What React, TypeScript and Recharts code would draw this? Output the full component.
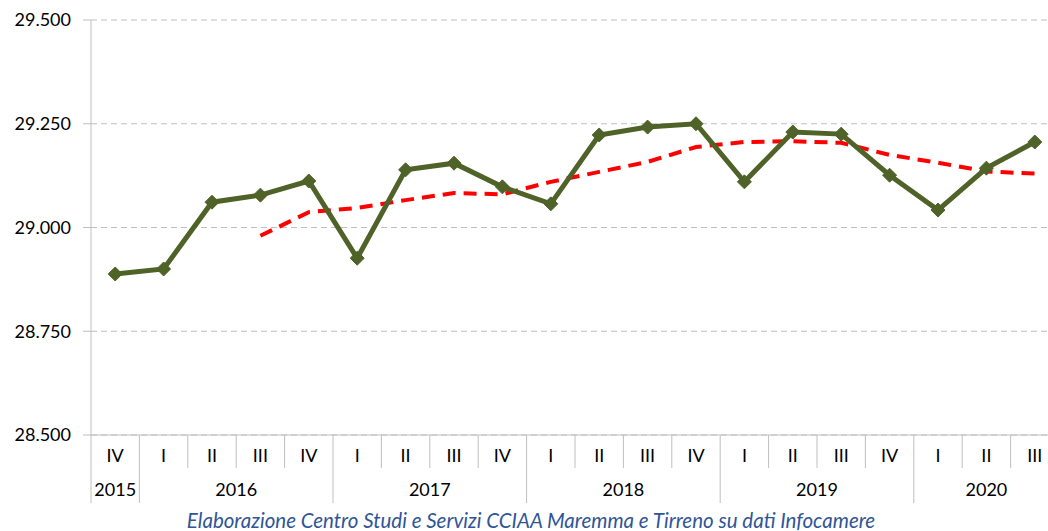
import React from "react";
import { ComposedChart, Line, XAxis, YAxis, CartesianGrid } from "recharts";

const quarters = ["IV", "I", "II", "III", "IV", "I", "II", "III", "IV", "I", "II", "III", "IV", "I", "II", "III", "IV", "I", "II", "III"];
const years = ["2015", "2016", "2016", "2016", "2016", "2017", "2017", "2017", "2017", "2018", "2018", "2018", "2018", "2019", "2019", "2019", "2019", "2020", "2020", "2020"];
const imprese = [28888, 28900, 29061, 29078, 29112, 28926, 29139, 29155, 29098, 29057, 29223, 29242, 29250, 29110, 29230, 29225, 29126, 29042, 29143, 29206];
const mediaMobile = [null, null, null, 28980, 29037, 29047, 29066, 29083, 29080, 29110, 29134, 29158, 29194, 29206, 29208, 29204, 29175, 29156, 29135, 29130];
const yTicks = [28500, 28750, 29000, 29250, 29500];

const data = quarters.map((q, i) => ({ key: `${years[i]}-${q}-${i}`, q, year: years[i], imprese: imprese[i], media: mediaMobile[i] }));

const CHART_W = 1062;
const CHART_H = 531;
const MARGIN = { top: 20, right: 3, left: 0, bottom: 26 };
const Y_W = 91;
const X_H = 70;
const BAND = (CHART_W - MARGIN.left - MARGIN.right - Y_W) / quarters.length;
const FONT = "Lato, 'Open Sans', sans-serif";
const AXIS = "#BFBFBF";
const FS = 18;

const fmt = (v: number) => `${Math.floor(v / 1000)}.${String(v % 1000).padStart(3, "0")}`;

const XTick = (props: any) => {
  const { x, y, payload } = props;
  const i = payload.index;
  const left = x - BAND / 2;
  const isYearStart = i === 0 || years[i] !== years[i - 1];
  let yearLabel = null;
  if (isYearStart) {
    let n = 0;
    while (i + n < years.length && years[i + n] === years[i]) n++;
    yearLabel = (
      <text x={left + (n * BAND) / 2} y={y + 54} textAnchor="middle" dominantBaseline="central" fontSize={FS} fill="#000" fontFamily={FONT}>
        {years[i]}
      </text>
    );
  }
  return (
    <g>
      <line x1={left} x2={left} y1={y} y2={isYearStart ? y + 68 : y + 33} stroke={AXIS} strokeWidth={1} />
      <text x={x} y={y + 20} textAnchor="middle" dominantBaseline="central" fontSize={FS} fill="#000" fontFamily={FONT}>
        {quarters[i]}
      </text>
      {yearLabel}
    </g>
  );
};

const Diamond = (props: any) => {
  const { cx, cy } = props;
  if (cx == null || cy == null) return null;
  const r = 7;
  return <path d={`M${cx},${cy - r}L${cx + r},${cy}L${cx},${cy + r}L${cx - r},${cy}Z`} fill="#4F6228" stroke="#4F6228" strokeWidth={1} />;
};

export default function App() {
  return (
    <div style={{ position: "fixed", left: 0, top: 0, width: 1048, height: 531, overflow: "hidden", background: "#fff" }}>
      <ComposedChart width={CHART_W} height={CHART_H} data={data} margin={MARGIN}>
        <CartesianGrid vertical={false} stroke={AXIS} strokeDasharray="6 4" />
        <XAxis
          dataKey="key"
          height={X_H}
          interval={0}
          padding={{ left: BAND / 2, right: BAND / 2 }}
          tickLine={false}
          tickSize={0}
          tickMargin={0}
          axisLine={{ stroke: AXIS }}
          tick={<XTick />}
        />
        <YAxis
          width={Y_W}
          domain={[28500, 29500]}
          ticks={yTicks}
          tickFormatter={fmt}
          axisLine={{ stroke: AXIS }}
          tickLine={{ stroke: AXIS }}
          tickSize={8}
          tickMargin={12}
          tick={{ fontSize: FS, fill: "#000", fontFamily: FONT }}
        />
        <Line dataKey="media" stroke="#FF0000" strokeWidth={4} strokeDasharray="13 8" dot={false} isAnimationActive={false} />
        <Line dataKey="imprese" stroke="#4F6228" strokeWidth={5} dot={<Diamond />} activeDot={false} isAnimationActive={false} />
      </ComposedChart>
      <div
        style={{
          position: "absolute",
          left: 14,
          width: 1034,
          top: 510,
          height: 20,
          textAlign: "center",
          fontFamily: FONT,
          fontStyle: "italic",
          fontSize: 20.5,
          color: "#2F5597",
          lineHeight: "20px",
          whiteSpace: "nowrap",
        }}
      >
        Elaborazione Centro Studi e Servizi CCIAA Maremma e Tirreno su dati Infocamere
      </div>
    </div>
  );
}
